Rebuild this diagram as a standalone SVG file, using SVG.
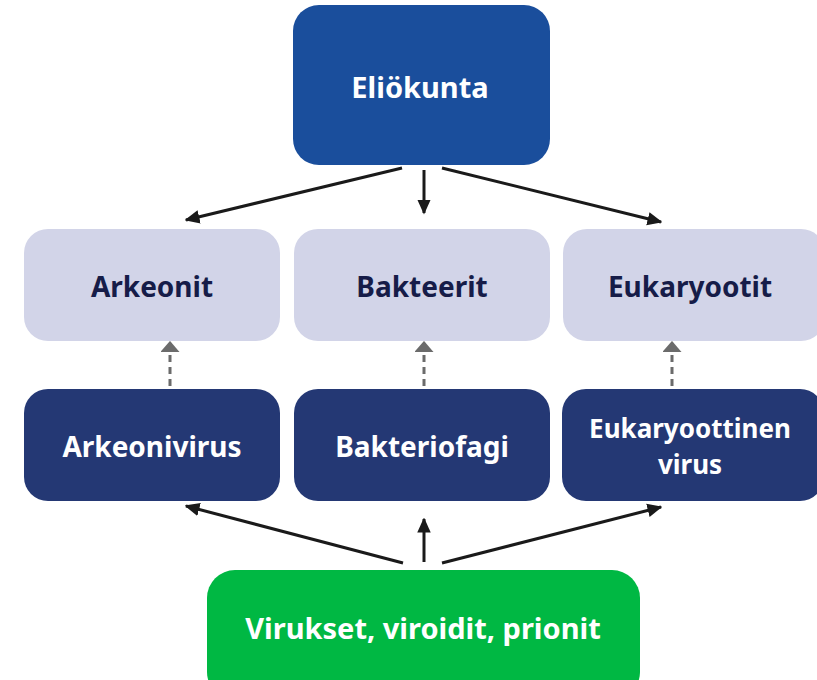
<svg xmlns="http://www.w3.org/2000/svg" width="817" height="680" viewBox="0 0 817 680">
<defs>
<style>
.t{font-family:"Noto Sans","Open Sans",sans-serif;font-weight:bold;text-anchor:middle;dominant-baseline:central}
.w{fill:#ffffff}
.d{fill:#161c48}
.top{fill:#1a4e9c}
.lt{fill:#d2d4e8}
.dk{fill:#243874}
.gr{fill:#00b843}
.c{stroke:#1a1a1a;stroke-width:3;fill:none;marker-end:url(#ah)}
.dc{stroke:#6b6b6b;stroke-width:3;fill:none;stroke-dasharray:7 5;marker-end:url(#ag)}
</style>
<marker id="ah" viewBox="0 0 10 10" refX="9" refY="5" markerWidth="15" markerHeight="15" markerUnits="userSpaceOnUse" orient="auto">
<path d="M0,0.5 L10,5 L0,9.5 z" fill="#1a1a1a"/>
</marker>
<marker id="ag" viewBox="0 0 10 10" refX="9" refY="5" markerWidth="11" markerHeight="19" markerUnits="userSpaceOnUse" orient="auto" preserveAspectRatio="none">
<path d="M0,0 L10,5 L0,10 z" fill="#6b6b6b"/>
</marker>
</defs>
<rect width="817" height="680" fill="#ffffff"/>
<g id="connectors">
<line class="c" x1="402" y1="168" x2="186" y2="220"/>
<line class="c" x1="424" y1="170" x2="424" y2="213"/>
<line class="c" x1="442" y1="168" x2="661" y2="222"/>
<line class="dc" x1="170" y1="386" x2="170" y2="342"/>
<line class="dc" x1="424" y1="386" x2="424" y2="342"/>
<line class="dc" x1="672" y1="386" x2="672" y2="342"/>
<line class="c" x1="403" y1="563" x2="186" y2="506"/>
<line class="c" x1="424" y1="562" x2="424" y2="519"/>
<line class="c" x1="442" y1="563" x2="661" y2="507"/>
</g>
<g id="eliokunta"><rect class="top" x="293" y="5" width="257" height="160" rx="26"/><text class="t w" x="420" y="86" font-size="29">Eliökunta</text></g>
<g id="arkeonit"><rect class="lt" x="24" y="229" width="256" height="112" rx="24"/><text class="t d" x="152" y="286" font-size="28">Arkeonit</text></g>
<g id="bakteerit"><rect class="lt" x="294" y="229" width="256" height="112" rx="24"/><text class="t d" x="422" y="286" font-size="28">Bakteerit</text></g>
<g id="eukaryootit"><rect class="lt" x="563" y="229" width="262" height="112" rx="24"/><text class="t d" x="690" y="286" font-size="28">Eukaryootit</text></g>
<g id="arkeonivirus"><rect class="dk" x="24" y="389" width="256" height="112" rx="24"/><text class="t w" x="152" y="446" font-size="28">Arkeonivirus</text></g>
<g id="bakteriofagi"><rect class="dk" x="294" y="389" width="256" height="112" rx="24"/><text class="t w" x="422" y="446" font-size="28">Bakteriofagi</text></g>
<g id="eukaryoottinen"><rect class="dk" x="562" y="389" width="262" height="112" rx="24"/><text class="t w" x="690" y="428" font-size="26">Eukaryoottinen</text><text class="t w" x="690" y="464" font-size="26">virus</text></g>
<g id="virukset"><rect class="gr" x="207" y="570" width="433" height="130" rx="28"/><text class="t w" x="423" y="627" font-size="29">Virukset, viroidit, prionit</text></g>
</svg>
